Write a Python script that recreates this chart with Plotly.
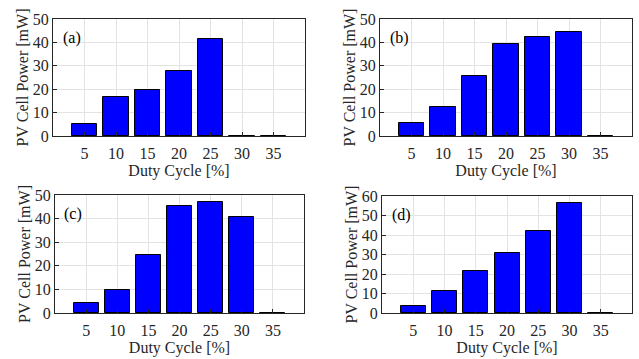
import plotly.graph_objects as go

duty = [5, 10, 15, 20, 25, 30, 35]
power_a = [5.0, 16.6, 19.7, 27.6, 41.6, 0, 0]
power_b = [5.4, 12.3, 25.5, 39.3, 42.1, 44.4, 0]
power_c = [4.4, 9.7, 24.6, 45.2, 46.9, 40.7, 0]
power_d = [3.6, 11.1, 21.6, 30.9, 42.1, 56.4, 0]
labels = ["(a)", "(b)", "(c)", "(d)"]
ymax = [50, 50, 50, 60]

W, H = 639, 359
panels = [
    (53, 305, 19, 136),
    (380, 632, 19, 136),
    (55, 304, 195, 313),
    (382, 632, 196, 313),
]
series = [power_a, power_b, power_c, power_d]

FONT = "Liberation Serif, serif"
AX = "#262626"
GRID = "#e3e3e3"
FS = 16

fig = go.Figure()
layout = dict(
    width=W, height=H, margin=dict(l=0, r=0, t=0, b=0),
    paper_bgcolor="white", plot_bgcolor="white",
    font=dict(family=FONT, size=FS, color=AX),
    showlegend=False, bargap=0,
)
annotations = []
for i, (vals, (x0, x1, y0, y1)) in enumerate(zip(series, panels)):
    n = "" if i == 0 else str(i + 1)
    fig.add_trace(go.Bar(
        x=duty, y=vals, width=4,
        marker=dict(color="#0000ff", line=dict(color="black", width=1)),
        xaxis="x" + n, yaxis="y" + n,
    ))
    layout["xaxis" + n] = dict(
        domain=[x0 / W, x1 / W], anchor="y" + n, range=[0, 40],
        tickmode="array", tickvals=duty, ticktext=[str(d) for d in duty],
        showline=True, mirror=True, linecolor=AX, linewidth=1,
        ticks="inside", ticklen=4, tickcolor=AX,
        showgrid=True, gridcolor=GRID, zeroline=False,
        ticklabelstandoff=3, automargin=False,
        title=dict(text="Duty Cycle [%]", standoff=3, font=dict(family=FONT, size=FS)),
        tickfont=dict(family=FONT, size=FS), fixedrange=True,
    )
    ym = ymax[i]
    layout["yaxis" + n] = dict(
        domain=[1 - y1 / H, 1 - y0 / H], anchor="x" + n, range=[0, ym],
        tickmode="array", tickvals=list(range(0, ym + 1, 10)),
        showline=True, mirror=True, linecolor=AX, linewidth=1,
        ticks="inside", ticklen=4, tickcolor=AX,
        showgrid=True, gridcolor=GRID, zeroline=False, automargin=False,
        title=dict(text="PV Cell Power [mW]", standoff=0, font=dict(family=FONT, size=FS)),
        tickfont=dict(family=FONT, size=FS), fixedrange=True,
    )
    annotations.append(dict(
        x=1.2, y=ym * 0.84, xref="x" + n, yref="y" + n,
        text=labels[i], showarrow=False, xanchor="left", yanchor="middle",
        font=dict(family=FONT, size=FS, color="black"),
    ))
layout["annotations"] = annotations
fig.update_layout(**layout)
fig.write_html("out.html")
